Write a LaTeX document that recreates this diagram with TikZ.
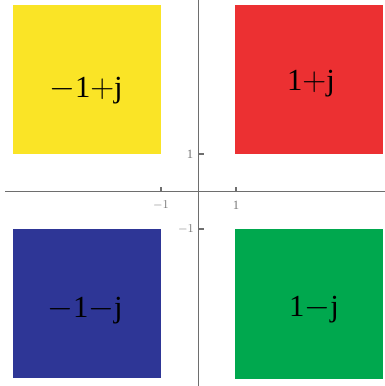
\documentclass[tikz,border=0pt]{standalone}
\usepackage{fontspec}
\setmainfont{Liberation Serif}
\begin{document}
\begin{tikzpicture}[x=0.75pt,y=0.75pt,yscale=-1,xscale=1,
  axis/.style={color={rgb, 255:red, 110; green, 110; blue, 110 }, line width=0.9},
  ticklbl/.style={color={rgb, 255:red, 120; green, 120; blue, 120 }, font=\fontsize{9.5}{11}\selectfont, inner sep=0},
  quadlbl/.style={font=\fontsize{23}{26}\selectfont, inner sep=0}]
\useasboundingbox (0,0) rectangle (385,386);

%Shape: Square [id:yellow] 
\fill [color={rgb, 255:red, 250; green, 228; blue, 38 }] (13,5) rectangle (161,154) ;
%Shape: Square [id:red] 
\fill [color={rgb, 255:red, 236; green, 48; blue, 50 }] (235,5) rectangle (383,154) ;
%Shape: Square [id:blue] 
\fill [color={rgb, 255:red, 46; green, 54; blue, 150 }] (13,229) rectangle (161,378) ;
%Shape: Square [id:green] 
\fill [color={rgb, 255:red, 0; green, 168; blue, 78 }] (235,229) rectangle (383,379) ;

%Straight Lines [id:xaxis] 
\coordinate (xl) at (5,191.5) ;
\coordinate (xr) at (385,191.5) ;
\draw [axis] (xl) -- (xr) ;
%Straight Lines [id:yaxis] 
\coordinate (yt) at (198.5,0) ;
\coordinate (yb) at (198.5,386) ;
\draw [axis] (yt) -- (yb) ;

%Ticks
\draw [axis] (161,191.5) -- (161,186.5) ;
\draw [axis] (236,191.5) -- (236,186.5) ;
\draw [axis] (198.5,154) -- (203.5,154) ;
\draw [axis] (198.5,229) -- (203.5,229) ;

% Text Node
\draw (161,205) node [ticklbl] (xm) {$-1$};
% Text Node
\draw (236,205) node [ticklbl] (xp) {1};
% Text Node
\draw (190,154) node [ticklbl] (yp) {1};
% Text Node
\draw (186,229) node [ticklbl] (ym) {$-1$};

% Text Node
\draw (86,91) node [quadlbl] (a) {$-$1$+$j};
% Text Node
\draw (311,84) node [quadlbl] (b) {1$+$j};
% Text Node
\draw (85,311) node [quadlbl] (c) {$-$1$-$j};
% Text Node
\draw (314,310) node [quadlbl] (d) {1$-$j};

\end{tikzpicture}
\end{document}
